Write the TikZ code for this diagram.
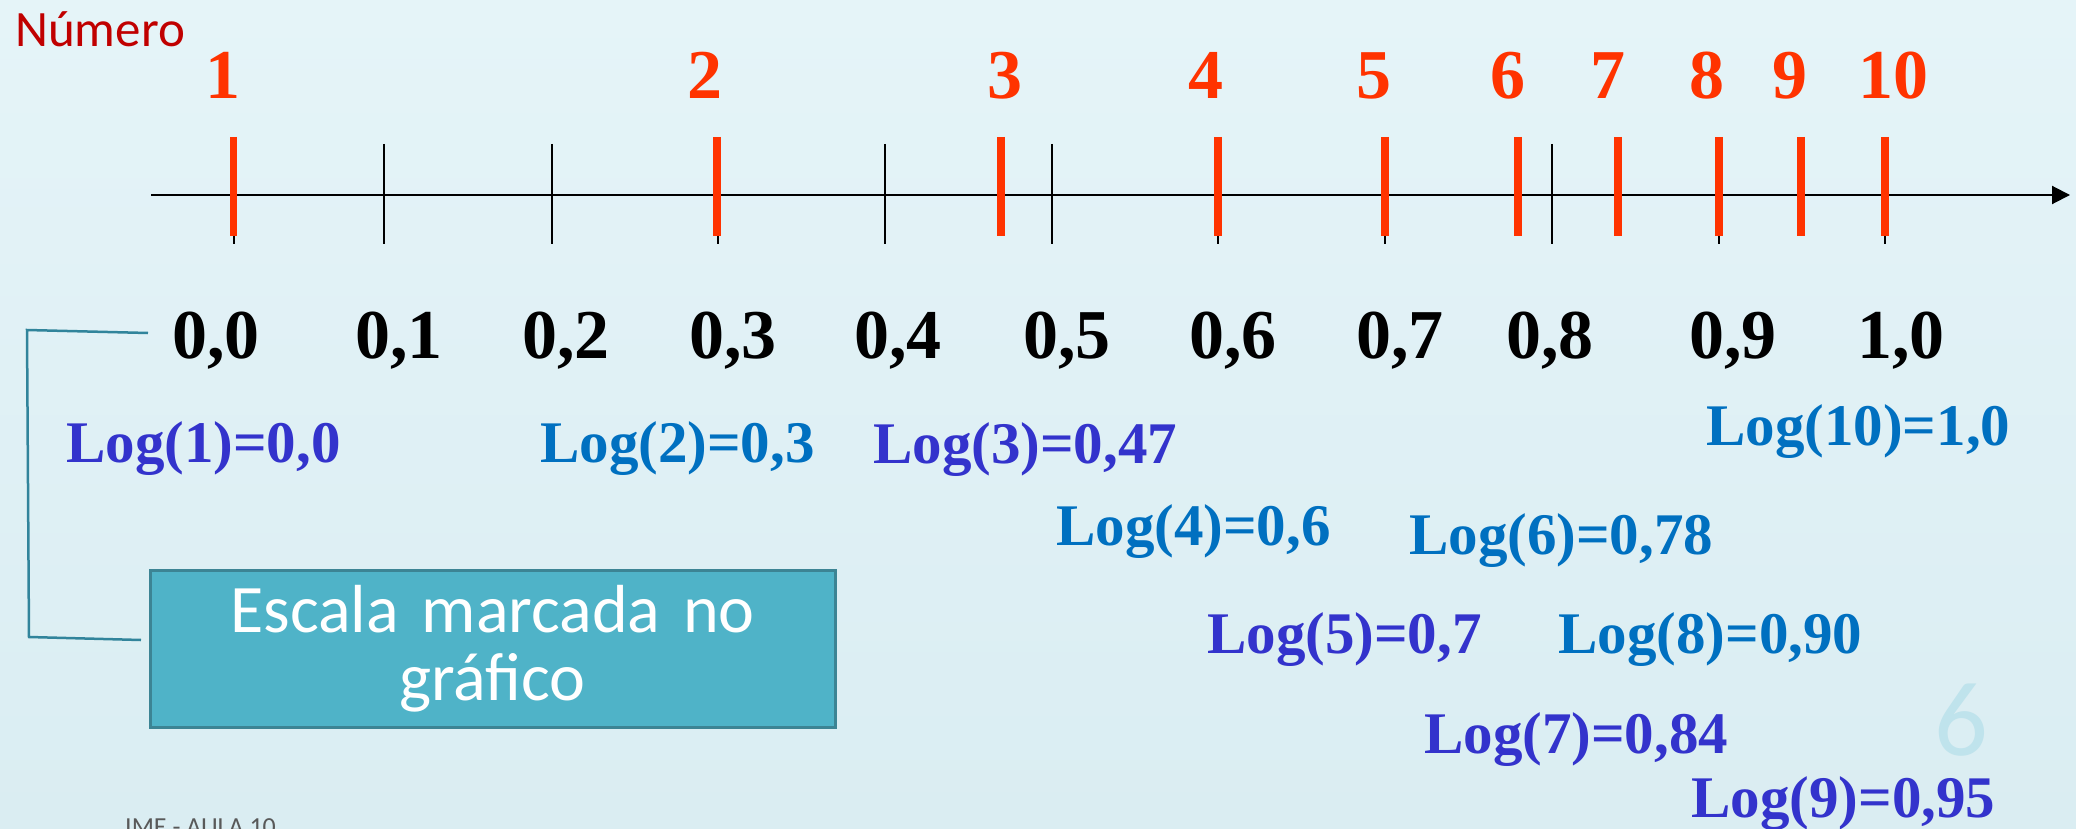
\documentclass[tikz,border=0pt]{standalone}
\usepackage{fontspec}
\setmainfont{Liberation Serif}
\newfontfamily\calib{Carlito}
\usetikzlibrary{arrows.meta}
\definecolor{bgtop}{HTML}{E5F4F8}
\definecolor{bgbot}{HTML}{DAEDF2}
\definecolor{tickred}{HTML}{FF3300}
\definecolor{numred}{HTML}{C00000}
\definecolor{lpurple}{HTML}{3333CC}
\definecolor{lblue}{HTML}{0070C0}
\definecolor{boxfill}{HTML}{4FB3C8}
\definecolor{boxline}{HTML}{3C8494}
\definecolor{brk}{HTML}{31849B}
\definecolor{pagenum}{HTML}{BFE3EC}
\definecolor{footgray}{HTML}{595959}
\begin{document}
\begin{tikzpicture}[x=1pt,y=-1pt,
  numlbl/.style={anchor=base,inner sep=0pt,text=tickred,font=\fontsize{70}{70}\selectfont\bfseries},
  scalelbl/.style={anchor=base,inner sep=0pt,text=black,font=\fontsize{70}{70}\selectfont\bfseries},
  loglbl/.style={anchor=base west,inner sep=0pt,font=\fontsize{59}{59}\selectfont\bfseries},
  blacktick/.style={draw=black,line width=2pt},
  redtick/.style={draw=tickred,line width=7.5pt},
  axisline/.style={draw=black,line width=2pt,-{Triangle[length=18pt,width=18pt]}},
  bracket/.style={draw=brk,line width=2.5pt},
  escbox/.style={draw=boxline,line width=3pt,fill=boxfill,minimum width=685pt,minimum height=157pt,
    inner sep=0pt,text width=685pt,align=center,text=white,font=\calib\fontsize{68}{68}\selectfont}]
\useasboundingbox (0,0) rectangle (2076,829);
\clip (0,0) rectangle (2076,829);
\shade[top color=bgtop,bottom color=bgbot] (0,0) rectangle (2076,829);

% title
\node[anchor=base west,inner sep=0pt,text=numred,font=\calib\fontsize{51}{51}\selectfont] (titulo) at (15,47) {Número};

% number labels
\foreach \n/\x in {1/223,2/705,3/1005,4/1206,5/1374,6/1508,7/1608,8/1707,9/1790,10/1893}
  \node[numlbl] (n\n) at (\x,99) {\n};

% axis
\coordinate (axstart) at (151,195);
\coordinate (axend) at (2070,195);
\draw[axisline] (axstart) -- (axend);

% black ticks (tenths)
\foreach \x in {233.5,384,552,718,885,1052,1218,1385,1552,1719,1885}
  \draw[blacktick] (\x,144) -- (\x,244);
% red ticks (log of numbers)
\foreach \x in {233.5,717,1001,1218,1385,1518,1618,1719,1801,1885}
  \draw[redtick] (\x,137) -- (\x,236);

% scale labels
\node[scalelbl] (s00) at (216,358) {0,0};
\node[scalelbl] (s01) at (399,358) {0,1};
\node[scalelbl] (s02) at (566,358) {0,2};
\node[scalelbl] (s03) at (733,358) {0,3};
\node[scalelbl] (s04) at (898,358) {0,4};
\node[scalelbl] (s05) at (1067,358) {0,5};
\node[scalelbl] (s06) at (1233,358) {0,6};
\node[scalelbl] (s07) at (1400,358) {0,7};
\node[scalelbl] (s08) at (1550,358) {0,8};
\node[scalelbl] (s09) at (1733,358) {0,9};
\node[scalelbl] (s10) at (1901,358) {1,0};

% log labels
\node[loglbl,text=lpurple] (l1) at (66,462) {Log(1)=0,0};
\node[loglbl,text=lblue] (l2) at (540,462) {Log(2)=0,3};
\node[loglbl,text=lpurple] (l3) at (873,463) {Log(3)=0,47};
\node[loglbl,text=lblue] (l10) at (1706,445) {Log(10)=1,0};
\node[loglbl,text=lblue] (l4) at (1056,545) {Log(4)=0,6};
\node[loglbl,text=lblue] (l6) at (1409,554) {Log(6)=0,78};
\node[loglbl,text=lpurple] (l5) at (1207,653) {Log(5)=0,7};
\node[loglbl,text=lblue] (l8) at (1558,653) {Log(8)=0,90};
\node[loglbl,text=lpurple] (l7) at (1424,753) {Log(7)=0,84};
\node[loglbl,text=lpurple] (l9) at (1691,817) {Log(9)=0,95};

% box
\node[escbox] (box) at (492.5,648.5) {Escala marcada no\\gráfico};

% bracket
\coordinate (brtop) at (148,333);
\coordinate (brbot) at (141,640);
\draw[bracket] (brtop) -- (27,330) -- (29,637) -- (brbot);

% page number and footer
\node[anchor=base,inner sep=0pt,text=pagenum,font=\calib\fontsize{106}{106}\selectfont] (pg) at (1961,755) {6};
\node[anchor=base west,inner sep=0pt,text=footgray,font=\calib\fontsize{26}{26}\selectfont] (foot) at (125,835) {IME - AULA 10};
\end{tikzpicture}
\end{document}
